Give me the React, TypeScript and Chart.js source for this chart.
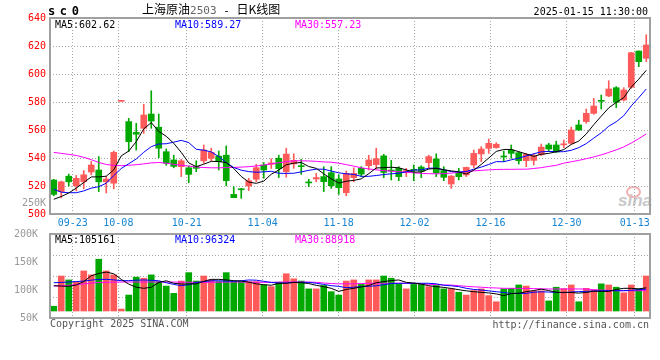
import React, { useEffect, useRef } from 'react';
import { Chart, registerables } from 'chart.js';

Chart.register(...registerables);

// ---------- data ----------
const dates = [
  '09-18','09-19','09-20','09-23','09-24','09-25','09-26','09-27','09-30',
  '10-08','10-09','10-10','10-11','10-14','10-15','10-16','10-17','10-18','10-21','10-22','10-23','10-24','10-25','10-28','10-29','10-30','10-31',
  '11-01','11-04','11-05','11-06','11-07','11-08','11-11','11-12','11-13','11-14','11-15','11-18','11-19','11-20','11-21','11-22','11-25','11-26','11-27','11-28','11-29',
  '12-02','12-03','12-04','12-05','12-06','12-09','12-10','12-11','12-12','12-13','12-16','12-17','12-18','12-19','12-20','12-23','12-24','12-25','12-26','12-27','12-30','12-31',
  '01-02','01-03','01-06','01-07','01-08','01-09','01-10','01-13','01-14','01-15',
];
const tickDates = ['09-23', '10-08', '10-21', '11-04', '11-18', '12-02', '12-16', '12-30', '01-13'];

const openP = [
  524.3, 516, 527, 520.2, 523, 530, 531.4, 523, 522, 580.5,
  566, 558.3, 561.2, 571.4, 562, 544.5, 538.6, 533.8, 533, 533.8,
  538, 539.8, 541.4, 542, 514, 518, 520, 524.8, 535, 535.5,
  539.8, 530.2, 535.8, 534.5, 522.8, 525, 526.7, 529.5, 525, 515.2,
  526, 532.6, 534.5, 535.3, 541.5, 531.2, 532.6, 529.5, 531.8, 533.5,
  536.7, 539.3, 531, 521.4, 529, 527.9, 535, 542.9, 546.9, 547.4,
  541.2, 545.7, 543.8, 538.1, 538.3, 542.3, 549.3, 549.3, 549.4, 550.5,
  563.6, 566, 571.9, 581, 584.3, 590.2, 581.4, 590.5, 616.4, 611.2,
];
const highP = [
  524.8, 523.5, 528.5, 527.5, 531, 537.5, 541, 527, 545, 580.6,
  568.3, 564.8, 578.3, 588, 571.4, 546.5, 542, 539, 534.3, 538,
  549.3, 547, 545, 548.6, 519.5, 518.3, 525.5, 535.5, 536.7, 539.5,
  542, 547, 543, 539, 524.8, 529, 533.8, 533.8, 528, 530.7,
  533, 533.8, 542, 547, 542.6, 538.3, 533.8, 532.6, 535, 534.5,
  542, 543, 533.8, 527.5, 532.6, 533.5, 545.7, 548.1, 553.6, 551,
  545, 549.3, 544.5, 543.3, 543, 550, 550.5, 552, 552.9, 562,
  567, 575, 582.6, 585, 595.2, 591, 590.2, 615.5, 616.5, 628,
];
const lowP = [
  513, 511.5, 520, 516.5, 518, 528, 516, 515, 518, 580.5,
  544.5, 545.7, 557.6, 561.2, 540.2, 534.8, 533, 526.7, 522.4, 530.2,
  536.2, 538, 531.4, 520.2, 511.7, 511.2, 516.7, 523.1, 525.5, 532.5,
  526, 526.3, 532.6, 528.3, 519.5, 523, 516, 518.3, 514, 513,
  523, 526.7, 531.4, 532, 526, 524.3, 523.8, 526.7, 523.8, 526,
  533, 526.7, 523.8, 518.3, 524.3, 526.7, 533, 537.4, 543.3, 547,
  537.4, 539.8, 535.7, 533.8, 535, 541.7, 544.5, 544, 547.4, 549.8,
  559.5, 564.8, 571.2, 575, 583.8, 576, 580.7, 589.8, 605.2, 608.8,
];
const closeP = [
  514, 523, 523, 525.5, 528, 535, 523, 525, 544, 580.6,
  551.7, 557, 570.7, 566.4, 547, 536.2, 534, 538, 528.3, 532.6,
  545.7, 544, 537.4, 523.8, 511.7, 517.3, 523.8, 533.1, 531.4, 536.5,
  532.4, 542.8, 538.3, 533.8, 522.2, 526, 523.1, 520.2, 518.8, 529,
  529, 528.5, 538.6, 539.5, 529.7, 530.7, 526.7, 531, 531.2, 530.5,
  541, 529.3, 526.2, 527.1, 526.7, 533.3, 543.3, 546.4, 550.5, 549.8,
  540.7, 543.3, 538.1, 542.6, 541.5, 547.8, 546.4, 544.3, 550, 560,
  560, 571.9, 577.1, 580.5, 589.3, 579.8, 588.6, 615.2, 608.8, 620.7,
];
const ma5 = [
  510.5, 512.5, 515, 518.5, 522.5, 526.5, 526.5, 527, 531.5, 541.5,
  545, 551.7, 560.8, 565.3, 559, 555.5, 550.5, 544, 536.5, 533.8,
  535.6, 537.6, 537.5, 536.7, 532.5, 526.8, 522.8, 521.9, 523.5, 528.4,
  531.4, 535.2, 536.3, 536.8, 533.9, 532.6, 528.7, 525.1, 522.1, 523.4,
  524, 525.1, 528.8, 532.9, 533.1, 533.4, 533, 531.5, 529.9, 530,
  532.1, 532.6, 531.6, 530.8, 530.1, 528.5, 531.3, 535.4, 540, 544.7,
  546.1, 546.1, 544.5, 542.9, 541.2, 542.7, 543.3, 544.5, 546, 549.7,
  552.1, 557.2, 563.8, 569.9, 575.8, 579.7, 583.1, 590.7, 596.3, 602.62,
];
const ma10 = [
  517.6, 515.6, 515.2, 515.2, 516.5, 518.5, 519.5, 522, 527.5, 532.5,
  535.9, 539.3, 544.1, 548.1, 550, 550.2, 551.3, 552.6, 551, 546.2,
  545.6, 544.3, 541, 536.7, 533.2, 531.3, 530.3, 529.8, 530.1, 530.5,
  529.1, 529, 529.1, 530.1, 531.2, 532, 532, 530.7, 529.4, 528.7,
  528.3, 526.9, 526.9, 527.5, 528.2, 528.7, 529.1, 530.2, 531.4, 531.5,
  532.7, 532.8, 531.6, 530.3, 530, 530.3, 532, 533.5, 535.4, 537.4,
  537.3, 538.7, 539.9, 541.5, 543, 544.4, 544.7, 544.5, 544.5, 545.5,
  547.4, 550.3, 554.2, 558, 562.7, 565.9, 570.2, 577.2, 583.1, 589.27,
];
const ma30 = [
  544, 543.3, 542.6, 541.8, 540.5, 538.8, 536.8, 535.4, 534.7, 534.5,
  534.8, 535.2, 535.8, 536.5, 536.8, 536.3, 535.5, 534.8, 534.2, 533.6,
  533.2, 533, 533, 533.1, 533.3, 533.5, 533.8, 534.3, 535, 535.8,
  536.6, 537.4, 538, 538, 537.9, 537.6, 537.2, 537, 536.3, 535.3,
  534.2, 533, 532.2, 531.5, 531, 530.6, 530.2, 529.8, 529.4, 529,
  528.8, 528.7, 528.8, 529.2, 529.7, 530.3, 530.8, 531.2, 531.5, 531.8,
  531.9, 531.9, 532, 532, 532.5, 533.1, 534, 534.8, 536.3, 537.3,
  538.3, 539.5, 540.8, 542.2, 544, 545.8, 547.9, 550.7, 553.8, 557.23,
];
const volume = [
  71000, 125000, 118000, 115000, 134000, 127000, 155000, 134000, 127000, 66000,
  91000, 123000, 121000, 127000, 115000, 107000, 94000, 116000, 131000, 116000,
  125000, 118000, 115000, 131000, 115000, 115000, 115000, 115000, 109000, 106000,
  114000, 129000, 120000, 116000, 102000, 102000, 108000, 97000, 91000, 116000,
  118000, 110000, 118000, 118000, 125000, 121000, 111000, 102000, 110000, 110000,
  106000, 108000, 102000, 102000, 96000, 91000, 99000, 102000, 90000, 79000,
  102000, 103000, 109000, 107000, 98500, 98500, 80500, 105000, 102500, 109000,
  79000, 103000, 100000, 111000, 109000, 105000, 95000, 109000, 102000, 125000,
];
const volMa5 = [
  107700, 107000, 106500, 109000, 115000, 125500, 129500, 132000, 129000, 119000,
  110500, 105000, 103000, 105000, 113500, 116500, 112000, 110700, 110700, 111000,
  115500, 119000, 119000, 118000, 116700, 116000, 114000, 111000, 109500, 108500,
  112000, 112000, 113500, 113000, 111500, 108300, 106000, 103000, 97500, 101000,
  103000, 105500, 108000, 113000, 115000, 116800, 117900, 113700, 112500, 110500,
  107700, 106000, 104600, 102800, 100500, 98500, 97000, 95800, 94800, 93000,
  90000, 93500, 94200, 97000, 99000, 101500, 99000, 95800, 95800, 95500,
  94500, 95500, 98000, 97500, 97500, 101000, 103000, 103000, 102000, 104000,
];
const volMa10 = [
  113000, 113500, 114300, 115000, 116000, 117500, 119000, 119000, 118000, 116700,
  116700, 117500, 117900, 117300, 116500, 113000, 110000, 107700, 109500, 113500,
  114900, 116500, 116500, 116000, 115500, 116500, 117900, 117500, 115500, 113500,
  112500, 112500, 113700, 113700, 113700, 112000, 110000, 107700, 106500, 104200,
  105000, 106000, 106800, 107500, 109500, 111500, 112000, 112000, 112000, 112000,
  112000, 111000, 108500, 107500, 106000, 103000, 101000, 100000, 98500, 97000,
  95500, 94000, 94000, 94000, 96000, 96800, 96300, 95800, 95300, 96500,
  97000, 97600, 98200, 98500, 98800, 98800, 98800, 99500, 100500, 101500,
];
const volMa30 = [
  107000, 107500, 108500, 109500, 111000, 112300, 113500, 113800, 114000, 114300,
  114300, 114300, 114300, 114300, 114300, 114300, 114200, 114000, 113800, 113700,
  113700, 113800, 114000, 114200, 114300, 114200, 114000, 113800, 113700, 113700,
  114000, 114300, 114300, 114300, 114100, 113700, 112500, 111500, 111000, 111000,
  111000, 111500, 112000, 112000, 112000, 112000, 112000, 112000, 111500, 111000,
  110200, 109600, 109000, 108800, 107700, 106500, 105700, 105000, 104100, 103600,
  103000, 103000, 103000, 102800, 102500, 102200, 101800, 101800, 101800, 101800,
  101800, 101800, 100500, 99800, 99300, 98800, 98800, 98800, 98800, 98800,
];
const priceTicks = [500, 520, 540, 560, 580, 600, 620, 640];
const volTicks = [50000, 100000, 150000, 200000, 250000];

// ---------- styles ----------
const RED = '#ff5a5a';
const GREEN = '#00a800';
const GRID = '#a8a8a8';
const FRAME = '#a0a0a0';
const DATE_BLUE = '#1584d2';
const MONO = '"DejaVu Sans Mono", "Liberation Mono", monospace';
const CJK = '"Noto Sans CJK SC", "Noto Sans", sans-serif';

const framePlugin = {
  id: 'frame',
  afterDraw(chart: any) {
    const { ctx, chartArea: a } = chart;
    ctx.save();
    ctx.strokeStyle = FRAME;
    ctx.lineWidth = 2;
    ctx.strokeRect(a.left, a.top, a.right - a.left, a.bottom - a.top);
    ctx.restore();
  },
};

const extraVolLabel = {
  id: 'extraVolLabel',
  afterDraw(chart: any) {
    const s = chart.scales.y;
    const v = volTicks[volTicks.length - 1];
    const { ctx } = chart;
    ctx.save();
    ctx.font = `10px ${MONO}`;
    ctx.fillStyle = '#999999';
    ctx.textAlign = 'right';
    ctx.textBaseline = 'middle';
    ctx.fillText(v / 1000 + 'K', s.right - 4, s.getPixelForValue(v) - 3);
    ctx.restore();
  },
};

export default function App() {
  const priceRef = useRef<HTMLCanvasElement>(null);
  const volRef = useRef<HTMLCanvasElement>(null);

  useEffect(() => {
    const colors = dates.map((_, i) => (closeP[i] >= openP[i] ? RED : GREEN));
    const tickIdx = tickDates.map((d) => dates.indexOf(d));

    const gridAxis = (showLabels: boolean, h: number) => ({
      type: 'linear',
      position: 'bottom',
      offset: false,
      min: 0,
      max: dates.length - 1,
      afterBuildTicks: (s: any) => {
        s.ticks = tickIdx.map((v) => ({ value: v }));
      },
      ticks: {
        display: showLabels,
        callback: (v: any) => dates[v] ?? '',
        color: DATE_BLUE,
        font: { family: MONO, size: 10 },
        padding: 3,
        maxRotation: 0,
        autoSkip: false,
      },
      grid: { color: GRID, lineWidth: 1, drawTicks: false, offset: false },
      border: { display: false, dash: [1, 2] },
      afterFit: (s: any) => {
        s.height = h;
      },
    });

    const lineDs = (data: number[], color: string) => ({
      type: 'line',
      data,
      borderColor: color,
      borderWidth: 1,
      pointRadius: 0,
      tension: 0,
      fill: false,
      xAxisID: 'x',
      yAxisID: 'y',
      order: 0,
    });

    const price = new Chart(priceRef.current as HTMLCanvasElement, {
      type: 'bar',
      data: {
        labels: dates,
        datasets: [
          {
            type: 'bar',
            data: dates.map((_, i) => [lowP[i], highP[i]]),
            backgroundColor: colors,
            barThickness: 1,
            grouped: false,
            xAxisID: 'x',
            yAxisID: 'y',
            order: 2,
          },
          {
            type: 'bar',
            data: dates.map((_, i) => [openP[i], closeP[i]]),
            backgroundColor: colors,
            barThickness: 6,
            minBarLength: 1,
            grouped: false,
            xAxisID: 'x',
            yAxisID: 'y',
            order: 1,
          },
          lineDs(ma5, '#000000'),
          lineDs(ma10, '#0000ff'),
          lineDs(ma30, '#ff00ff'),
        ] as any,
      },
      options: {
        responsive: false,
        animation: false,
        events: [],
        layout: { padding: { top: 18, right: 10, left: 0, bottom: 0 } },
        plugins: { legend: { display: false }, tooltip: { enabled: false } },
        scales: {
          x: { type: 'category', display: false, offset: true },
          xg: gridAxis(true, 18) as any,
          y: {
            position: 'left',
            min: priceTicks[0],
            max: priceTicks[priceTicks.length - 1],
            afterBuildTicks: (s: any) => {
              s.ticks = priceTicks.map((v) => ({ value: v }));
            },
            ticks: { color: '#ff0000', font: { family: MONO, size: 10 }, padding: 4 },
            grid: { color: GRID, lineWidth: 1, drawTicks: false },
            border: { display: false, dash: [1, 2] },
            afterFit: (s: any) => {
              s.width = 50;
            },
          },
        },
      } as any,
      plugins: [framePlugin],
    });

    const vol = new Chart(volRef.current as HTMLCanvasElement, {
      type: 'bar',
      data: {
        labels: dates,
        datasets: [
          {
            type: 'bar',
            data: volume,
            backgroundColor: colors,
            barThickness: 6,
            base: 62500,
            grouped: false,
            xAxisID: 'x',
            yAxisID: 'y',
            order: 1,
          },
          lineDs(volMa5, '#000000'),
          lineDs(volMa10, '#0000ff'),
          lineDs(volMa30, '#ff00ff'),
        ] as any,
      },
      options: {
        responsive: false,
        animation: false,
        events: [],
        layout: { padding: { top: 234, right: 10, left: 0, bottom: 42 } },
        plugins: { legend: { display: false }, tooltip: { enabled: false } },
        scales: {
          x: { type: 'category', display: false, offset: true },
          xg: gridAxis(false, 0) as any,
          y: {
            position: 'left',
            min: volTicks[0],
            max: volTicks[3],
            afterBuildTicks: (s: any) => {
              s.ticks = volTicks.slice(0, 4).map((v) => ({ value: v }));
            },
            ticks: {
              color: '#999999',
              font: { family: MONO, size: 10 },
              padding: 4,
              callback: (v: any) => v / 1000 + 'K',
            },
            grid: { display: false },
            border: { display: false },
            afterFit: (s: any) => {
              s.width = 50;
            },
          },
          yg: {
            position: 'right',
            min: volTicks[0],
            max: volTicks[3],
            ticks: { display: false, stepSize: 37500 },
            grid: { color: GRID, lineWidth: 1, drawTicks: false },
            border: { display: false, dash: [1, 2] },
            afterFit: (s: any) => {
              s.width = 0;
            },
          },
        },
      } as any,
      plugins: [framePlugin, extraVolLabel],
    });

    return () => {
      price.destroy();
      vol.destroy();
    };
  }, []);

  const txt = (style: React.CSSProperties): React.CSSProperties => ({
    position: 'absolute',
    whiteSpace: 'nowrap',
    fontFamily: MONO,
    fontSize: 10,
    lineHeight: '10px',
    ...style,
  });

  return (
    <div
      style={{
        position: 'absolute',
        left: 0,
        top: 0,
        width: 660,
        height: 360,
        background: '#ffffff',
        overflow: 'hidden',
      }}
    >
      <div
        style={{
          position: 'absolute',
          left: 626,
          top: 186,
          width: 11,
          height: 8,
          borderRadius: '50%',
          border: '2px solid #f4b0b0',
        }}
      />
      <div
        style={txt({
          left: 618,
          top: 192,
          fontFamily: '"Liberation Sans", Arial, sans-serif',
          fontStyle: 'italic',
          fontWeight: 'bold',
          fontSize: 17,
          lineHeight: '17px',
          color: '#c8c8c8',
        })}
      >
        sina
      </div>
      <canvas ref={volRef} width={660} height={360} style={{ position: 'absolute', left: 0, top: 0 }} />
      <canvas ref={priceRef} width={660} height={232} style={{ position: 'absolute', left: 0, top: 0 }} />

      <div style={txt({ left: 48, top: 5, fontSize: 12, lineHeight: '12px', fontWeight: 'bold', letterSpacing: '4.6px' })}>sc0</div>
      <div style={{ position: 'absolute', left: 142, top: 2, fontFamily: CJK, fontSize: 12, lineHeight: '14px', whiteSpace: 'nowrap' }}>
        上海原油
        <span style={{ fontFamily: MONO, fontSize: 11, color: '#666666' }}>2503</span>
        <span style={{ fontFamily: MONO, fontSize: 11 }}> - </span>
        日K线图
      </div>
      <div style={txt({ right: 12, top: 7 })}>2025-01-15 11:30:00</div>

      <div style={txt({ left: 55, top: 19.5, color: '#000000' })}>MA5:602.62</div>
      <div style={txt({ left: 175, top: 19.5, color: '#0000ff' })}>MA10:589.27</div>
      <div style={txt({ left: 295, top: 19.5, color: '#ff00ff' })}>MA30:557.23</div>

      <div style={txt({ left: 55, top: 234.5, color: '#000000' })}>MA5:105161</div>
      <div style={txt({ left: 175, top: 234.5, color: '#0000ff' })}>MA10:96324</div>
      <div style={txt({ left: 295, top: 234.5, color: '#ff00ff' })}>MA30:88918</div>

      <div style={txt({ left: 50, top: 319, color: '#555555' })}>Copyright 2025 SINA.COM</div>
      <div style={txt({ right: 11, top: 319.5, color: '#555555' })}>http://finance.sina.com.cn</div>
    </div>
  );
}
